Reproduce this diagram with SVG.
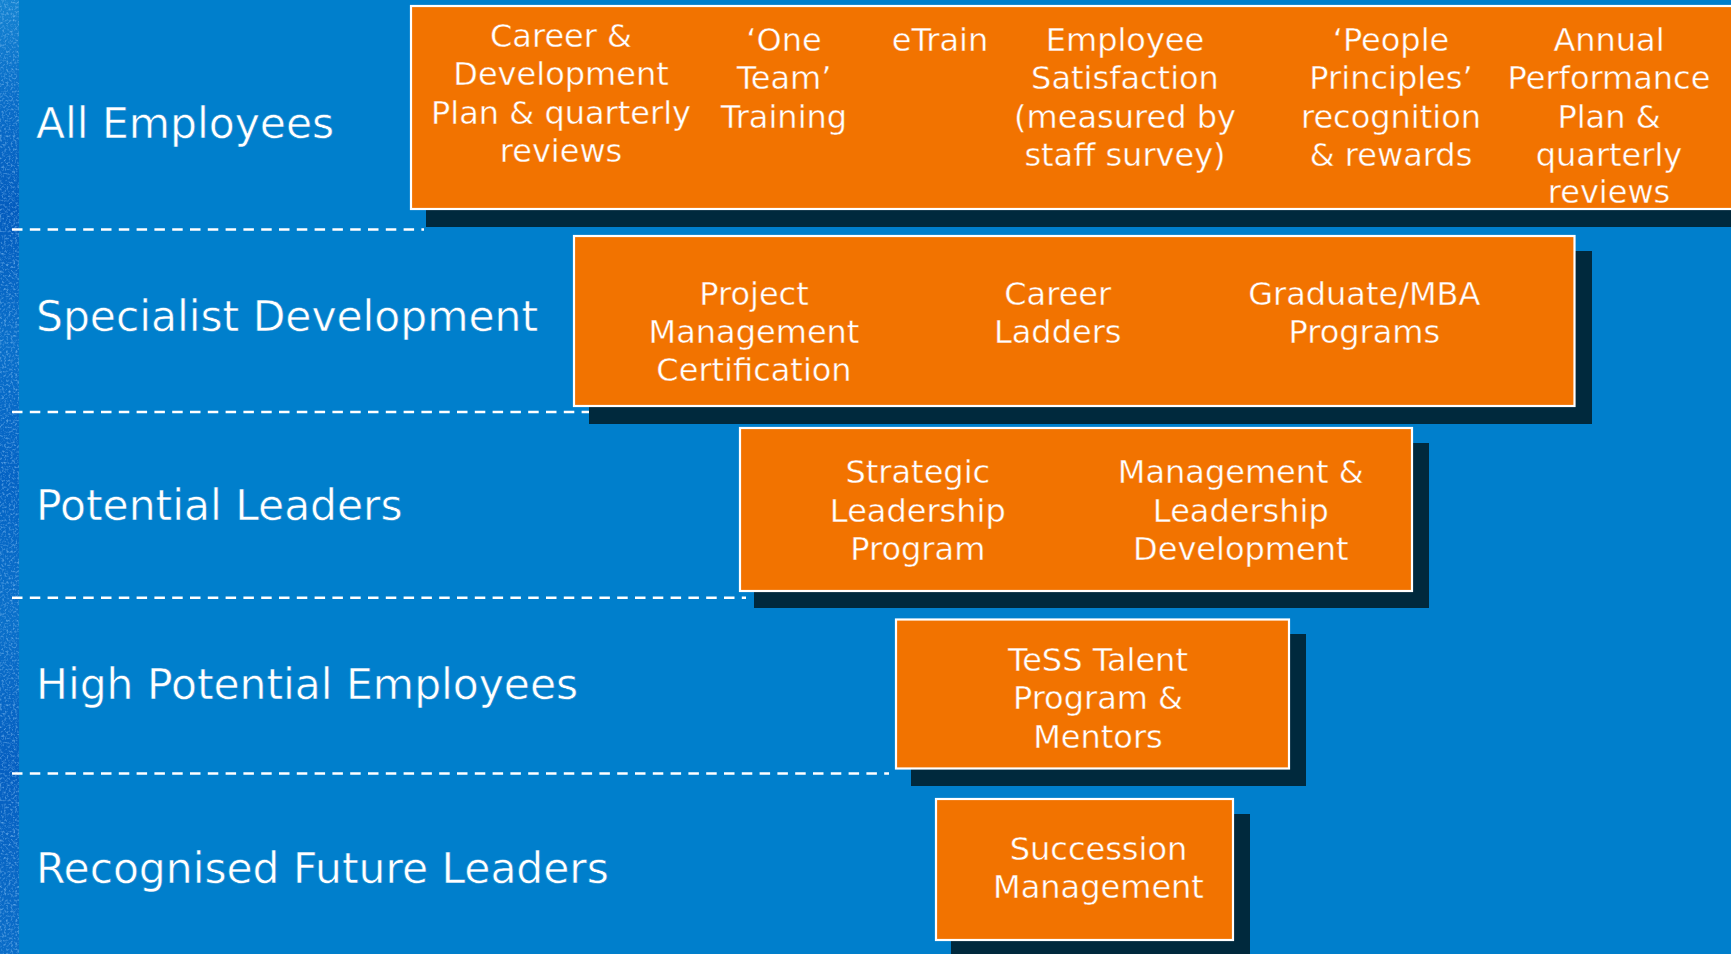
<svg xmlns="http://www.w3.org/2000/svg" width="1731" height="954" viewBox="0 0 1731 954">
  <defs>
    <style>
      /* a thin stroke in the surrounding colour slims the glyph stems */
      .tier { font-family: "DejaVu Sans", "Liberation Sans", sans-serif; font-size: 42.4px; fill: #ffffff; stroke: #007fcc; stroke-width: 0.55; }
      .item { font-family: "DejaVu Sans", "Liberation Sans", sans-serif; font-size: 32px; fill: #ffffff; text-anchor: middle; stroke: #f27300; stroke-width: 0.4; }
      .box { fill: #f27300; stroke: #ffffff; stroke-width: 2.2; }
      .shadow { fill: #00293d; }
      .sep { stroke: #ffffff; stroke-width: 2.4; stroke-dasharray: 10.5 7.3; fill: none; }
    </style>
    <linearGradient id="stripFill" x1="0" y1="0" x2="0" y2="1">
      <stop offset="0" stop-color="#1584d2"/>
      <stop offset="0.1" stop-color="#0a6ec9"/>
      <stop offset="0.22" stop-color="#035cbe"/>
      <stop offset="0.36" stop-color="#096fca"/>
      <stop offset="0.5" stop-color="#0463c4"/>
      <stop offset="0.65" stop-color="#0a70ca"/>
      <stop offset="0.8" stop-color="#055fc1"/>
      <stop offset="1" stop-color="#0a6dc8"/>
    </linearGradient>
    <filter id="grain" x="0" y="0" width="1" height="1">
      <feTurbulence type="fractalNoise" baseFrequency="0.45" numOctaves="2" seed="7"/>
      <feColorMatrix type="matrix" values="0 0 0 0 0.3  0 0 0 0 0.6  0 0 0 0 0.95  0 0 0 1.5 -0.72"/>
    </filter>
  </defs>

  <!-- backdrop -->
  <rect x="0" y="0" width="1731" height="954" fill="#007fcc"/>
  <rect x="0" y="0" width="19" height="954" fill="url(#stripFill)"/>
  <rect x="0" y="0" width="19" height="954" filter="url(#grain)"/>

  <!-- tier separators -->
  <g id="separators">
    <line class="sep" x1="12" y1="229.5" x2="424" y2="229.5"/>
    <line class="sep" x1="12" y1="412" x2="593" y2="412"/>
    <line class="sep" x1="12" y1="597.7" x2="746" y2="597.7"/>
    <line class="sep" x1="12" y1="773.5" x2="889" y2="773.5"/>
  </g>

  <!-- tier labels -->
  <g id="tiers">
    <text class="tier" x="36" y="137.5">All Employees</text>
    <text class="tier" x="36" y="331">Specialist Development</text>
    <text class="tier" x="36" y="520">Potential Leaders</text>
    <text class="tier" x="36" y="698.5">High Potential Employees</text>
    <text class="tier" x="36" y="882.5">Recognised Future Leaders</text>
  </g>

  <!-- All Employees programmes -->
  <g id="all-employees">
    <rect class="shadow" x="426" y="21" width="1400" height="206"/>
    <rect class="box" x="411" y="6" width="1400" height="203"/>
    <text class="item"><tspan x="561" y="46.7">Career &amp;</tspan><tspan x="561" y="85">Development</tspan><tspan x="561" y="123.5">Plan &amp; quarterly</tspan><tspan x="561" y="161.8">reviews</tspan></text>
    <text class="item"><tspan x="784" y="50.7">‘One</tspan><tspan x="784" y="89.2">Team’</tspan><tspan x="784" y="127.6">Training</tspan></text>
    <text class="item" x="940" y="50.7">eTrain</text>
    <text class="item"><tspan x="1125" y="50.7">Employee</tspan><tspan x="1125" y="89.2">Satisfaction</tspan><tspan x="1125" y="127.6">(measured by</tspan><tspan x="1125" y="165.8">staff survey)</tspan></text>
    <text class="item"><tspan x="1391" y="50.7">‘People</tspan><tspan x="1391" y="89.2">Principles’</tspan><tspan x="1391" y="127.6">recognition</tspan><tspan x="1391" y="165.8">&amp; rewards</tspan></text>
    <text class="item"><tspan x="1609" y="50.7">Annual</tspan><tspan x="1609" y="89.2">Performance</tspan><tspan x="1609" y="127.6">Plan &amp;</tspan><tspan x="1609" y="165.8">quarterly</tspan><tspan x="1609" y="203.3">reviews</tspan></text>
  </g>

  <!-- Specialist Development programmes -->
  <g id="specialist-development">
    <rect class="shadow" x="589" y="251" width="1003" height="173"/>
    <rect class="box" x="574" y="236" width="1000.5" height="170"/>
    <text class="item"><tspan x="754" y="305">Project</tspan><tspan x="754" y="343.3">Management</tspan><tspan x="754" y="381">Certification</tspan></text>
    <text class="item"><tspan x="1057.7" y="305">Career</tspan><tspan x="1057.7" y="343.3">Ladders</tspan></text>
    <text class="item"><tspan x="1364.3" y="305">Graduate/MBA</tspan><tspan x="1364.3" y="343.3">Programs</tspan></text>
  </g>

  <!-- Potential Leaders programmes -->
  <g id="potential-leaders">
    <rect class="shadow" x="754" y="443" width="675" height="165"/>
    <rect class="box" x="740" y="428" width="672" height="163"/>
    <text class="item"><tspan x="917.8" y="483.3">Strategic</tspan><tspan x="917.8" y="521.7">Leadership</tspan><tspan x="917.8" y="560">Program</tspan></text>
    <text class="item"><tspan x="1240.8" y="483.3">Management &amp;</tspan><tspan x="1240.8" y="521.7">Leadership</tspan><tspan x="1240.8" y="560">Development</tspan></text>
  </g>

  <!-- High Potential Employees programme -->
  <g id="high-potential">
    <rect class="shadow" x="911" y="634" width="395" height="152"/>
    <rect class="box" x="896" y="619.5" width="393" height="149"/>
    <text class="item"><tspan x="1098" y="670.7">TeSS Talent</tspan><tspan x="1098" y="709.3">Program &amp;</tspan><tspan x="1098" y="747.7">Mentors</tspan></text>
  </g>

  <!-- Recognised Future Leaders programme -->
  <g id="future-leaders">
    <rect class="shadow" x="951" y="814" width="299" height="150"/>
    <rect class="box" x="936" y="799" width="297" height="141"/>
    <text class="item"><tspan x="1098.5" y="860">Succession</tspan><tspan x="1098.5" y="898.3">Management</tspan></text>
  </g>
</svg>
